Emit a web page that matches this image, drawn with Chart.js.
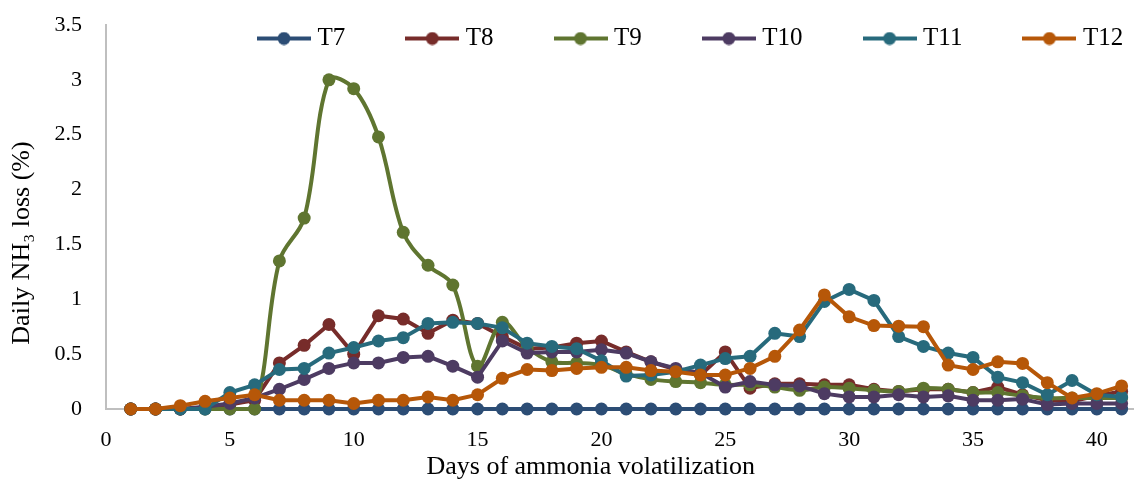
<!DOCTYPE html>
<html><head><meta charset="utf-8">
<script src="https://cdn.jsdelivr.net/npm/chart.js@4.4.1/dist/chart.umd.min.js"></script>
<style>html,body{margin:0;padding:0;background:#fff}#wrap{width:1134px;height:480px;position:relative}</style>
</head><body><div id="wrap"><canvas id="c" width="1134" height="480"></canvas></div>
<script>
const days = [1,2,3,4,5,6,7,8,9,10,11,12,13,14,15,16,17,18,19,20,21,22,23,24,25,26,27,28,29,30,31,32,33,34,35,36,37,38,39,40,41];
const seriesNames = ['T7','T8','T9','T10','T11','T12'];
const T7 = [0,0,0,0,0,0,0,0,0,0,0,0,0,0,0,0,0,0,0,0,0,0,0,0,0,0,0,0,0,0,0,0,0,0,0,0,0,0,0,0,0];
const T8 = [0,0,0,0.01,0.04,0.08,0.42,0.58,0.77,0.5,0.85,0.82,0.69,0.81,0.78,0.66,0.55,0.56,0.6,0.62,0.52,0.43,0.36,0.31,0.52,0.19,0.23,0.23,0.22,0.22,0.18,0.16,0.18,0.18,0.15,0.2,0.13,0.08,0.07,0.12,0.16];
const T9 = [0,0,0,0,0,0,1.35,1.74,3.0,2.92,2.48,1.61,1.31,1.13,0.39,0.79,0.56,0.43,0.42,0.40,0.32,0.27,0.25,0.24,0.22,0.22,0.2,0.17,0.2,0.19,0.17,0.16,0.19,0.18,0.15,0.15,0.12,0.1,0.1,0.1,0.1];
const T10 = [0,0,0,0.02,0.05,0.1,0.18,0.27,0.37,0.42,0.42,0.47,0.48,0.39,0.29,0.62,0.51,0.52,0.52,0.54,0.51,0.43,0.37,0.33,0.2,0.25,0.22,0.21,0.14,0.11,0.11,0.13,0.11,0.12,0.08,0.08,0.09,0.04,0.05,0.05,0.05];
const T11 = [0,0,0,0,0.15,0.22,0.36,0.37,0.51,0.56,0.62,0.65,0.78,0.79,0.78,0.74,0.6,0.57,0.55,0.44,0.3,0.31,0.34,0.4,0.46,0.48,0.69,0.66,0.98,1.09,0.99,0.66,0.57,0.51,0.47,0.29,0.24,0.13,0.26,0.13,0.11];
const T12 = [0,0,0.03,0.07,0.1,0.13,0.08,0.08,0.08,0.05,0.08,0.08,0.11,0.08,0.13,0.28,0.36,0.35,0.37,0.38,0.38,0.35,0.34,0.31,0.31,0.37,0.48,0.72,1.04,0.84,0.76,0.755,0.75,0.4,0.36,0.43,0.415,0.24,0.1,0.14,0.21];
const seriesValues = [T7,T8,T9,T10,T11,T12];
const colors = ['#2C4D75','#772C2A','#5F7530','#4D3B62','#276A7C','#B65708'];
const xTitle = 'Days of ammonia volatilization';
const yTitle = 'Daily NH\u2083 loss (%)';

const FONT = "'Liberation Serif', 'Times New Roman', serif";

function legendIcon(color){
  const c = document.createElement('canvas');
  c.width = 54; c.height = 14;
  const g = c.getContext('2d');
  g.strokeStyle = color; g.lineWidth = 4;
  g.beginPath(); g.moveTo(0,7); g.lineTo(54,7); g.stroke();
  g.fillStyle = color; g.beginPath(); g.arc(27,7,6.5,0,Math.PI*2); g.fill();
  return c;
}
const icons = colors.map(legendIcon);

// legend floats inside the plot (as in the reference) and takes no layout space
const legendPlacer = {
  id: 'legendPlacer',
  afterInit(chart){
    const lg = chart.legend;
    if(!lg || lg._patched) return;
    const origFit = lg.fit.bind(lg);
    lg.fit = function(){ origFit(); this.height = 0; };
    lg._patched = true;
  },
  afterLayout(chart){
    const lg = chart.legend;
    if(!lg) return;
    lg.left = 197; lg.right = 1500; lg.top = -40; lg.bottom = 120;
    lg.width = lg.right - lg.left; lg.height = lg.bottom - lg.top;
  }
};

const nb = n => '\u00A0'.repeat(n);

new Chart(document.getElementById('c'), {
  type: 'line',
  data: {
    datasets: seriesNames.map((name,i)=>({
      label: name,
      data: days.map((d,j)=>({x:d, y:seriesValues[i][j]})),
      borderColor: colors[i],
      backgroundColor: colors[i],
      pointBackgroundColor: colors[i],
      pointBorderColor: colors[i],
      pointBorderWidth: 0,
      pointRadius: 6.5,
      pointHoverRadius: 6.5,
      borderWidth: 4,
      tension: name === 'T9' ? 0.35 : 0,
      order: 5 - i,
      clip: false
    }))
  },
  options: {
    responsive: false,
    animation: false,
    devicePixelRatio: 1,
    events: [],
    layout: { autoPadding: false, padding: { top: 25, right: 0, bottom: 0, left: 0 } },
    plugins: {
      tooltip: { enabled: false },
      legend: {
        position: 'top',
        align: 'start',
        labels: {
          usePointStyle: true,
          pointStyleWidth: 42,
          padding: 66,
          color: '#000',
          font: { family: FONT, size: 25 },
          sort: (a,b) => a.datasetIndex - b.datasetIndex,
          generateLabels(chart){
            const items = Chart.defaults.plugins.legend.labels.generateLabels(chart);
            items.forEach(it => { it.pointStyle = icons[it.datasetIndex]; });
            return items;
          }
        }
      }
    },
    scales: {
      x: {
        type: 'linear',
        min: 0, max: 41.5,
        grid: { display: false, drawTicks: false },
        border: { display: true, color: '#BFBFBF', width: 2 },
        ticks: { stepSize: 5, includeBounds: false, padding: 18, color: '#000', font: { family: FONT, size: 22 } },
        title: { display: true, text: xTitle + nb(9), color: '#000', font: { family: FONT, size: 26 }, padding: { top: 0, bottom: -3 } },
        afterFit(s){ s.height = 71; s.paddingLeft = 0; s.paddingRight = 0; }
      },
      y: {
        min: 0, max: 3.5,
        grid: { display: false, drawTicks: false },
        border: { display: true, color: '#BFBFBF', width: 2 },
        ticks: { stepSize: 0.5, padding: 24, color: '#000', font: { family: FONT, size: 22 },
                 callback: v => String(Number(v.toFixed(2))) },
        title: { display: true, text: yTitle + nb(8), color: '#000', font: { family: FONT, size: 26 }, padding: { top: 7, bottom: 0 } },
        afterFit(s){ s.width = 106; s.paddingTop = 0; s.paddingBottom = 0; }
      }
    }
  },
  plugins: [legendPlacer]
});
</script></body></html>
